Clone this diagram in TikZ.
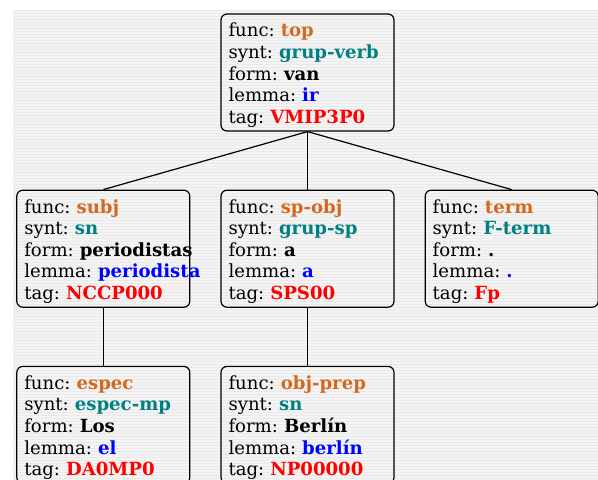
\documentclass[tikz,border=0pt]{standalone}
\usepackage{fontspec}
\setmainfont{DejaVu Serif}
\usetikzlibrary{positioning}
\definecolor{funccol}{RGB}{210,105,30}
\definecolor{syntcol}{RGB}{0,128,128}
\frenchspacing
\newcommand{\feats}[5]{\mbox{\rule{0pt}{19.4pt}func: \textbf{\color{funccol}#1}}\\\mbox{synt: \textbf{\color{syntcol}#2}}\\\mbox{form: \textbf{#3}}\\\mbox{lemma: \textbf{\color{blue}#4}}\\\mbox{tag: \textbf{\color{red}#5}}}

\begin{document}
\begin{tikzpicture}[x=1pt, y=1pt, font=\fontsize{18.1}{21.6}\selectfont, word/.style={draw, line width=1.2pt, rounded corners=6pt, align=left, text width=158pt, inner xsep=7.5pt, inner ysep=2pt, minimum height=117pt}, link/.style={line width=1.2pt}, node distance=58pt and 30pt]
\clip (0,0) rectangle (598,480);
% striped background
\fill[gray!9] (13,0) rectangle (598,470);
\foreach \y in {1,4,...,469} \draw[gray!17, line width=1pt] (13,\y) -- (598,\y);
\node[word] (top) at (307.5,407.5) {\feats{top}{grup-verb}{van}{ir}{VMIP3P0}};
\node[word, below=of top] (spobj) {\feats{sp-obj}{grup-sp}{a}{a}{SPS00}};
\node[word, left=of spobj] (subj) {\feats{subj}{sn}{periodistas}{periodista}{NCCP000}};
\node[word, right=of spobj] (term) {\feats{term}{F-term}{.}{.}{Fp}};
\node[word, below=of subj] (espec) {\feats{espec}{espec-mp}{Los}{el}{DA0MP0}};
\node[word, below=of spobj] (objprep) {\feats{obj-prep}{sn}{Berlín}{berlín}{NP00000}};
\draw[link] (top.south) -- (subj.north);
\draw[link] (top.south) -- (spobj.north);
\draw[link] (top.south) -- (term.north);
\draw[link] (subj) -- (espec);
\draw[link] (spobj) -- (objprep);
\end{tikzpicture}
\end{document}
